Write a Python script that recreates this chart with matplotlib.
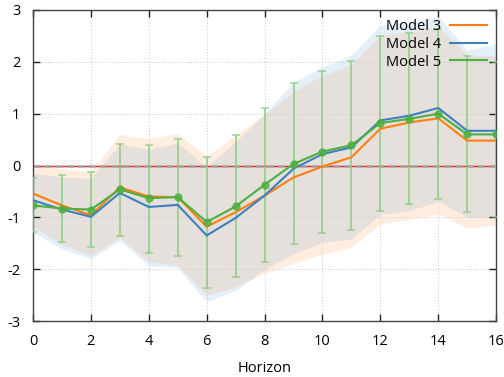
import numpy as np
import matplotlib.pyplot as plt

plt.rcParams['font.family'] = ['Open Sans', 'DejaVu Sans']
plt.rcParams['axes.unicode_minus'] = False

horizon = list(range(17))

# point estimates
model3 = [-0.54, -0.77, -0.96, -0.42, -0.60, -0.61, -1.18, -0.90, -0.58, -0.23,
          -0.02, 0.16, 0.71, 0.83, 0.91, 0.48, 0.48]
model4 = [-0.67, -0.85, -0.99, -0.53, -0.80, -0.76, -1.35, -1.01, -0.58, -0.06,
          0.22, 0.35, 0.87, 0.96, 1.11, 0.67, 0.67]
model5 = [-0.77, -0.83, -0.85, -0.46, -0.63, -0.61, -1.09, -0.79, -0.37, 0.03,
          0.27, 0.39, 0.82, 0.90, 1.00, 0.60, 0.60]

# confidence bands
m3_upper = [0.03, -0.06, -0.12, 0.60, 0.52, 0.62, 0.18, 0.59, 0.98, 1.42,
            1.74, 1.94, 2.51, 2.58, 2.67, 2.13, 2.11]
m3_lower = [-1.17, -1.53, -1.74, -1.39, -1.85, -1.92, -2.50, -2.34, -2.08, -1.89,
            -1.71, -1.58, -1.13, -1.04, -0.93, -1.21, -1.15]
m4_upper = [-0.15, -0.22, -0.25, 0.42, 0.31, 0.44, -0.03, 0.46, 1.00, 1.61,
            1.90, 2.13, 2.71, 2.76, 2.88, 2.23, 2.34]
m4_lower = [-1.29, -1.61, -1.80, -1.45, -1.93, -1.97, -2.63, -2.41, -2.00, -1.71,
            -1.48, -1.42, -0.94, -0.87, -0.69, -1.00, -1.00]
m5_upper = [-0.25, -0.19, -0.12, 0.42, 0.40, 0.52, 0.17, 0.59, 1.10, 1.59,
            1.83, 2.02, 2.50, 2.56, 2.63, 2.12, 2.00]
m5_lower = [-1.29, -1.48, -1.57, -1.36, -1.68, -1.75, -2.36, -2.15, -1.86, -1.52,
            -1.30, -1.24, -0.87, -0.74, -0.64, -0.90, -1.00]

c3 = '#ff7f0e'
c4 = '#3f7fbf'
c5 = '#4caf3f'

fig = plt.figure(figsize=(5.04, 3.77), dpi=100)
ax = fig.add_axes([0.0655, 0.1485, 0.919, 0.825])

ax.fill_between(horizon, m3_lower, m3_upper, color=c3, alpha=0.13, lw=0)
ax.fill_between(horizon, m4_lower, m4_upper, color='#2a7cc0', alpha=0.12, lw=0)

# zero line
ax.axhline(0, color='#e0261b', lw=1.0, zorder=2)
ax.axhline(0, color='#a8a8a8', lw=2.0, dashes=(2.5, 1.5), alpha=0.85, zorder=2)

m5 = np.array(model5)
yerr = [m5 - np.array(m5_lower), np.array(m5_upper) - m5]
ax.errorbar(horizon, model5, yerr=yerr, fmt='none', ecolor='#86cc7a', elinewidth=1.4,
            capsize=3, capthick=1.2, alpha=0.75, zorder=3)

ax.plot(horizon, model3, color=c3, lw=1.5, label='Model 3', zorder=4)
ax.plot(horizon, model4, color=c4, lw=1.5, label='Model 4', zorder=4)
ax.plot(horizon, model5, color=c5, lw=1.5, label='Model 5', zorder=5)
ax.plot(horizon, model5, 'o', color=c5, ms=5, alpha=0.8, zorder=5)

ax.set_xlim(0, 16)
ax.set_ylim(-3, 3)
ax.set_xticks(range(0, 17, 2))
ax.set_yticks(range(-3, 4))
ax.grid(True, color='#c8c8c8', ls=(0, (1, 2)), lw=0.7)
ax.tick_params(direction='in', length=5, width=1.0, color='#222222', top=True,
               right=True, labelsize=10.5, pad=9)
for s in ax.spines.values():
    s.set_color('#444444')
    s.set_linewidth(1.0)

ax.set_xlabel('Horizon', fontsize=10.5, labelpad=9)

leg = ax.legend(loc='upper right', frameon=False, markerfirst=False, fontsize=10.5,
                handlelength=2.6, borderaxespad=0.2, labelspacing=0.2, handletextpad=0.6)

fig.savefig('out.png', dpi=100)
